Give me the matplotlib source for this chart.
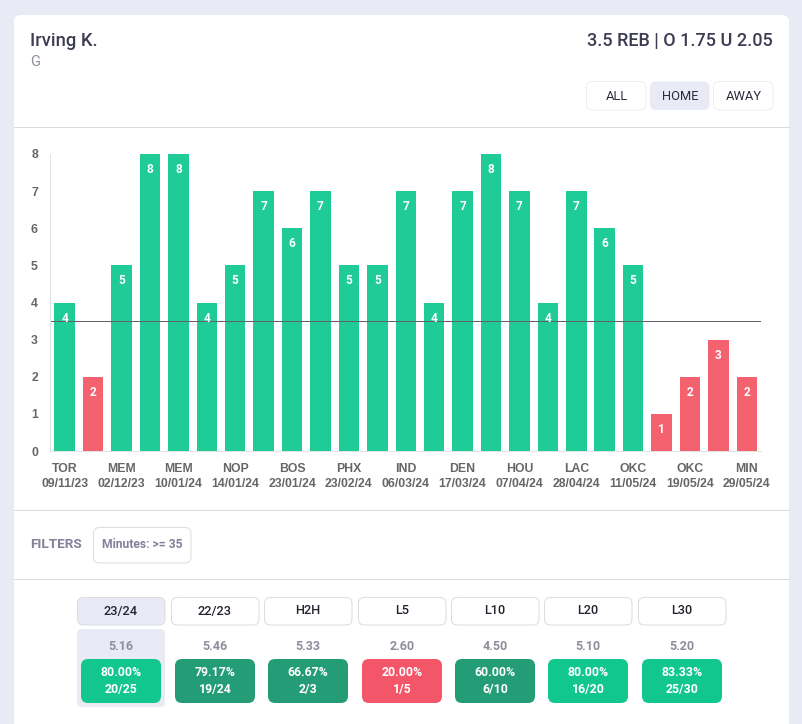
import matplotlib
matplotlib.use("Agg")
import matplotlib.pyplot as plt
from matplotlib.patches import FancyBboxPatch, Rectangle

# game log
rebounds = [4, 2, 5, 8, 8, 4, 5, 7, 6, 7, 5, 5, 7, 4, 7, 8, 7, 4, 7, 6, 5, 1, 2, 3, 2]
teams = ["TOR", "MEM", "MEM", "NOP", "BOS", "PHX", "IND", "DEN", "HOU", "LAC", "OKC", "OKC", "MIN"]
dates = ["09/11/23", "02/12/23", "10/01/24", "14/01/24", "23/01/24", "23/02/24", "06/03/24",
         "17/03/24", "07/04/24", "28/04/24", "11/05/24", "19/05/24", "29/05/24"]
line_value = 3.5

# split table
periods = ["23/24", "22/23", "H2H", "L5", "L10", "L20", "L30"]
averages = ["5.16", "5.46", "5.33", "2.60", "4.50", "5.10", "5.20"]
hit_pct = ["80.00%", "79.17%", "66.67%", "20.00%", "60.00%", "80.00%", "83.33%"]
hit_frac = ["20/25", "19/24", "2/3", "1/5", "6/10", "16/20", "25/30"]

GREEN = "#1fcc98"
RED = "#f4616f"
PAGE = "#e8ebf6"
LINE = "#dcdcde"
pct_colors = ["#12c78e", "#249c76", "#249c76", "#f25668", "#249c76", "#12c78e", "#12c78e"]

W, H = 803, 724
plt.rcParams['font.family'] = ['Roboto', 'DejaVu Sans']
fig = plt.figure(figsize=(W / 100, H / 100), dpi=100, facecolor=PAGE)

# overlay in pixel coords for the page furniture
bg = fig.add_axes([0, 0, 1, 1])
bg.set_xlim(0, W)
bg.set_ylim(H, 0)
bg.axis("off")


def box(x0, y0, x1, y1, fc, ec="none", r=5, lw=0.72):
    p = FancyBboxPatch((x0, y0), x1 - x0, y1 - y0, boxstyle="round,pad=0,rounding_size=%g" % r,
                       fc=fc, ec=ec, lw=lw)
    bg.add_patch(p)


box(14, 15, 789, 760, "white", r=7)
for yy in [127, 510, 579]:
    bg.plot([14, 789], [yy, yy], color=LINE, lw=0.72)

bg.text(30, 41, "Irving K.", fontsize=13.2, color="#3c3d52", va="center", fontweight="medium")
bg.text(30, 62, "G", fontsize=10.5, color="#8f8f99", va="center")
bg.text(773, 41, "3.5 REB | O 1.75 U 2.05", fontsize=13, color="#3c3d52", va="center", ha="right",
        fontweight="medium")

# ALL / HOME / AWAY
for name, x0, active in [("ALL", 586.5, False), ("HOME", 650, True), ("AWAY", 713.5, False)]:
    box(x0, 81.5, x0 + 59.5, 110, PAGE if active else "white", "none" if active else "#eeeef2", r=6)
    bg.text(x0 + 30, 96, name, fontsize=9.3, color="#2b2c3c", ha="center", va="center")

bg.text(30, 544, "FILTERS", fontsize=9.7, color="#81819b", va="center", fontweight="bold")
box(93.5, 527.5, 191, 563, "white", "#dcdce2", r=6)
bg.text(142, 544, "Minutes: >= 35", fontsize=8.7, color="#81819b", ha="center", va="center", fontweight="bold")

tab_x = [77.5, 171.5, 264.5, 358.5, 451.5, 544.5, 638.5]
pct_x = [81, 175, 268, 362, 455, 548, 642]
box(77, 629, 165, 707, PAGE, r=5)
for i in range(len(periods)):
    box(tab_x[i], 597.5, tab_x[i] + 87.5, 625, PAGE if i == 0 else "white", "#dcdce2", r=6)
    cx = tab_x[i] + 43.5
    bg.text(cx, 611, periods[i], fontsize=9.2, color="#22232f", ha="center", va="center", fontweight="medium")
    bg.text(cx, 646, averages[i], fontsize=9, color="#8d8d9d", ha="center", va="center", fontweight="bold")
    box(pct_x[i], 659, pct_x[i] + 80, 703, pct_colors[i], r=7)
    bg.text(cx, 672, hit_pct[i], fontsize=8.8, color="white", ha="center", va="center", fontweight="bold")
    bg.text(cx, 690, hit_frac[i], fontsize=8.8, color="white", ha="center", va="center", fontweight="bold")

# bar chart
ax = fig.add_axes([50.5 / W, 1 - 451 / H, 710.5 / W, 297 / H])
ax.patch.set_alpha(0)
x = list(range(len(rebounds)))
colors = [GREEN if v > line_value else RED for v in rebounds]
ax.bar(x, rebounds, width=0.72, color=colors)
ax.axhline(line_value, color="#5f6368", lw=0.72)
for i, v in zip(x, rebounds):
    ax.annotate(str(v), (i, v), xytext=(0, -15.5), textcoords="offset pixels", ha="center", va="center",
                color="white", fontsize=8.5, fontweight="bold", family="Roboto")
ax.set_xlim(-0.5, len(rebounds) - 0.5)
ax.set_ylim(0, 8)
ax.set_yticks(range(9))
ax.set_xticks(x[::2])
ax.set_xticklabels([t + "\n" + d for t, d in zip(teams, dates)], family="Liberation Sans", fontsize=8.8,
                   color="#666666", fontweight="bold", linespacing=1.28)
ax.tick_params(axis="x", length=0, pad=9)
ax.tick_params(axis="y", length=0, pad=9, labelsize=8.8, labelcolor="#666666")
for lab in ax.get_yticklabels():
    lab.set_family("Liberation Sans")
    lab.set_fontweight("bold")
for s in ["top", "right"]:
    ax.spines[s].set_visible(False)
for s in ["left", "bottom"]:
    ax.spines[s].set_color("#e3e3e3")
    ax.spines[s].set_linewidth(0.72)

fig.savefig("out.png", dpi=100, facecolor=PAGE)
